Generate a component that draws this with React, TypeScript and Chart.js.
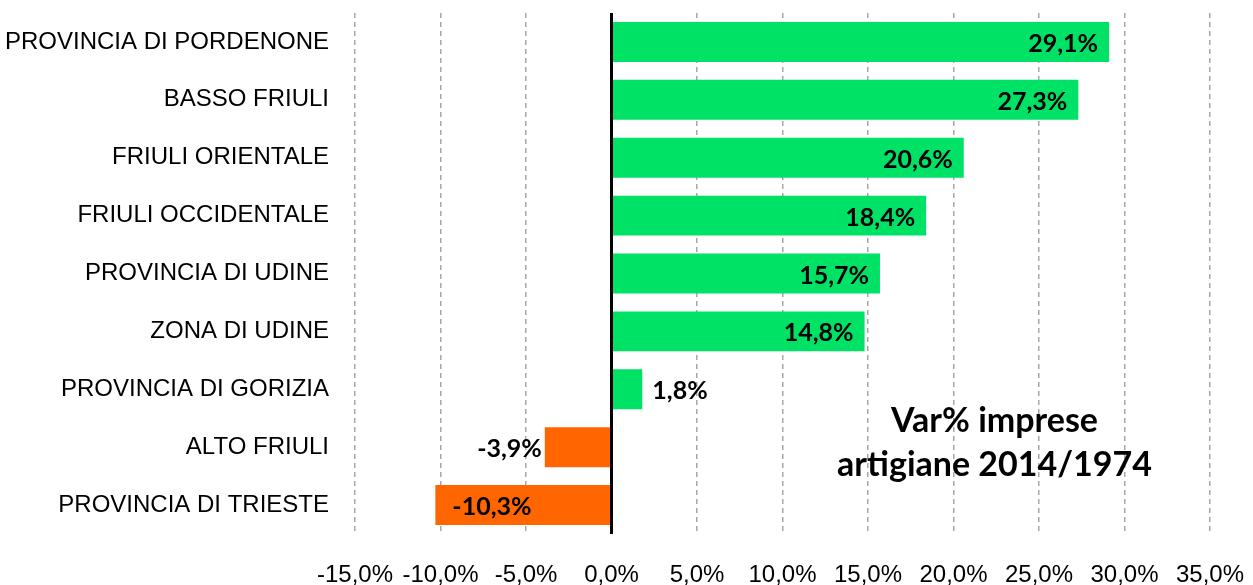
import React, { useEffect, useRef } from "react";
import { Chart, registerables } from "chart.js";

Chart.register(...registerables);

const categories = [
  "PROVINCIA DI PORDENONE",
  "BASSO FRIULI",
  "FRIULI ORIENTALE",
  "FRIULI OCCIDENTALE",
  "PROVINCIA DI UDINE",
  "ZONA DI UDINE",
  "PROVINCIA DI GORIZIA",
  "ALTO FRIULI",
  "PROVINCIA DI TRIESTE",
];
const values = [29.1, 27.3, 20.6, 18.4, 15.7, 14.8, 1.8, -3.9, -10.3];
const valueLabels = ["29,1%", "27,3%", "20,6%", "18,4%", "15,7%", "14,8%", "1,8%", "-3,9%", "-10,3%"];
const titleLines = ["Var% imprese", "artigiane 2014/1974"];

const GREEN = "#00e266";
const ORANGE = "#ff6600";

export default function App() {
  const ref = useRef<HTMLCanvasElement | null>(null);
  useEffect(() => {
    document.body.style.margin = "0";
    const canvas = ref.current!;
    const labelPlugin = {
      id: "labels",
      afterDatasetsDraw(chart: any) {
        const ctx = chart.ctx;
        const x = chart.scales.x;
        const area = chart.chartArea;
        const meta = chart.getDatasetMeta(0);
        ctx.save();
        const x0 = x.getPixelForValue(0);
        ctx.strokeStyle = "#000";
        ctx.lineWidth = 3;
        ctx.beginPath();
        ctx.moveTo(x0, area.top);
        ctx.lineTo(x0, area.bottom);
        ctx.stroke();
        ctx.font = "bold 25px Lato, 'Open Sans', sans-serif";
        ctx.fillStyle = "#000";
        ctx.textBaseline = "middle";
        meta.data.forEach((bar: any, i: number) => {
          const v = values[i];
          const y = bar.y + 2;
          const w = Math.abs(bar.x - bar.base);
          const txt = valueLabels[i];
          const tw = ctx.measureText(txt).width;
          if (v >= 0) {
            if (w > tw + 20) {
              ctx.textAlign = "right";
              ctx.fillText(txt, bar.x - 11, y);
            } else {
              ctx.textAlign = "left";
              ctx.fillText(txt, bar.x + 10, y);
            }
          } else {
            if (w > tw + 20) {
              ctx.textAlign = "left";
              ctx.fillText(txt, bar.x + 17, y);
            } else {
              ctx.textAlign = "right";
              ctx.fillText(txt, bar.x - 3, y);
            }
          }
        });
        ctx.font = "bold 34px Lato, 'Open Sans', sans-serif";
        ctx.textAlign = "center";
        const cx = x.getPixelForValue(22.4);
        ctx.fillText(titleLines[0], cx, 421);
        ctx.fillText(titleLines[1], cx, 465);
        ctx.restore();
      },
    };
    const chart = new Chart(canvas, {
      type: "bar",
      data: {
        labels: categories,
        datasets: [
          {
            data: values,
            backgroundColor: values.map((v) => (v >= 0 ? GREEN : ORANGE)),
            borderWidth: 0,
            barPercentage: 0.69,
            categoryPercentage: 1,
          },
        ],
      },
      options: {
        indexAxis: "y",
        animation: false,
        responsive: false,
        maintainAspectRatio: false,
        layout: { padding: { left: 0, right: 43, top: 13, bottom: 0 } },
        plugins: { legend: { display: false }, tooltip: { enabled: false } },
        scales: {
          x: {
            min: -15,
            max: 35,
            ticks: {
              stepSize: 5,
              color: "#000",
              padding: 27,
              font: { size: 24, family: "'Liberation Sans', Arial, sans-serif" },
              callback: (v: any) => Number(v).toFixed(1).replace(".", ",") + "%",
              maxRotation: 0,
              autoSkip: false,
            },
            grid: {
              color: "#a6a6a6",
              lineWidth: 1.5,
              drawTicks: false,
            },
            border: { display: false, dash: [5, 4] },
            afterFit: (s: any) => {
              s.height = 51;
              s.paddingLeft = 0;
              s.paddingRight = 0;
            },
          },
          y: {
            ticks: {
              color: "#000",
              padding: 26,
              font: { size: 24, family: "'Liberation Sans', Arial, sans-serif" },
            },
            grid: { display: false, drawTicks: false },
            border: { display: false },
            afterFit: (s: any) => {
              s.width = 355;
              s.paddingTop = 0;
              s.paddingBottom = 0;
            },
          },
        },
      },
      plugins: [labelPlugin],
    } as any);
    return () => chart.destroy();
  }, []);
  return (
    <div style={{ width: 1253, height: 585 }}>
      <canvas ref={ref} width={1253} height={585} />
    </div>
  );
}
